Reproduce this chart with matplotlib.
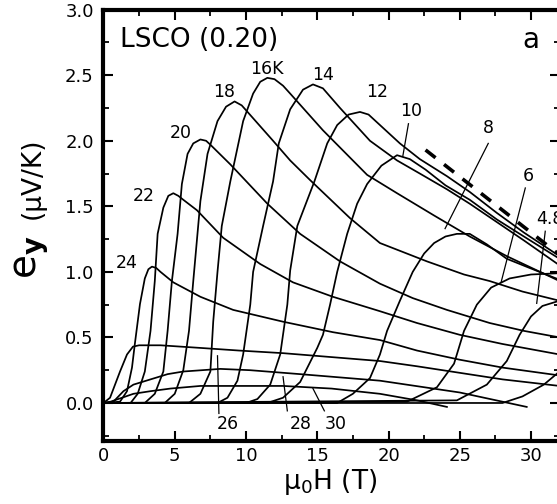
import matplotlib
matplotlib.use("Agg")
import matplotlib.pyplot as plt
from matplotlib.ticker import MultipleLocator, FormatStrFormatter

# e_y (uV/K) against field (T) for each temperature
h_30 = [0, 0.5, 2.1, 3.3, 4.7, 6.8, 8.2, 12.6, 16.0, 19.4, 22.0, 24.1]
e_30 = [0, 0.01, 0.07, 0.09, 0.11, 0.13, 0.13, 0.13, 0.11, 0.07, 0.02, -0.03]

h_28 = [0, 0.7, 1.4, 2.1, 3.3, 4.5, 5.6, 8.2, 10.3, 13.8, 19.4, 25.0, 29.7]
e_28 = [0, 0.01, 0.09, 0.14, 0.18, 0.22, 0.24, 0.26, 0.25, 0.22, 0.17, 0.08, -0.03]

h_26 = [0, 0.46, 1.16, 1.65, 2.07, 2.5, 4.0, 6.8, 9.5, 12.6, 16.0, 19.4, 22.0, 25.0, 28.0, 32.0]
e_26 = [0, 0.04, 0.24, 0.37, 0.43, 0.44, 0.44, 0.42, 0.40, 0.38, 0.35, 0.32, 0.28, 0.23, 0.18, 0.13]

h_24 = [0, 1.16, 1.65, 2.0, 2.2, 2.56, 2.9, 3.15, 3.4, 3.7, 4.0, 4.9, 6.8, 9.1, 12.6, 16.1, 19.4, 22.0, 25.0, 28.0, 32.0]
e_24 = [0, 0.01, 0.09, 0.27, 0.45, 0.755, 0.95, 1.02, 1.04, 1.03, 1.0, 0.92, 0.81, 0.71, 0.62, 0.54, 0.48, 0.40, 0.33, 0.27, 0.21]

h_22 = [0, 1.9, 2.4, 2.9, 3.3, 3.6, 3.8, 4.2, 4.55, 4.9, 5.25, 5.6, 6.56, 8.4, 11.0, 13.3, 16.1, 19.4, 22.0, 25.0, 28.0, 32.0]
e_22 = [0, 0, 0.07, 0.24, 0.55, 0.93, 1.29, 1.49, 1.58, 1.60, 1.58, 1.55, 1.47, 1.26, 1.06, 0.92, 0.81, 0.70, 0.61, 0.52, 0.45, 0.37]

h_20 = [0, 2.9, 3.6, 4.2, 4.5, 4.8, 5.2, 5.5, 5.9, 6.3, 6.8, 7.2, 7.5, 8.9, 11.5, 13.8, 16.6, 19.4, 21.7, 24.1, 27.1, 29.5, 32.0]
e_20 = [0, 0, 0.07, 0.24, 0.55, 0.93, 1.29, 1.67, 1.90, 1.98, 2.01, 2.00, 1.97, 1.82, 1.52, 1.29, 1.08, 0.91, 0.80, 0.71, 0.61, 0.55, 0.50]

h_18 = [0, 4.3, 5.0, 5.6, 6.0, 6.3, 6.8, 7.3, 8.0, 8.6, 9.2, 9.7, 11.9, 13.1, 14.5, 17.3, 19.4, 22.7, 25.3, 27.1, 29.4, 32.0]
e_18 = [0, 0, 0.07, 0.25, 0.55, 0.93, 1.54, 1.90, 2.15, 2.26, 2.30, 2.27, 2.0, 1.85, 1.70, 1.41, 1.22, 1.08, 0.98, 0.93, 0.85, 0.78]

h_16 = [0, 6.0, 6.8, 7.5, 7.7, 8.0, 8.3, 8.9, 9.8, 10.5, 11.0, 11.5, 12.0, 12.6, 13.1, 15.4, 18.5, 20.6, 23.2, 25.7, 28.3, 32.0]
e_16 = [0, 0, 0.07, 0.24, 0.62, 1.0, 1.35, 1.69, 2.15, 2.36, 2.45, 2.48, 2.47, 2.42, 2.36, 2.08, 1.74, 1.60, 1.43, 1.27, 1.12, 0.93]

h_14 = [0, 8.0, 8.7, 9.4, 9.8, 10.3, 10.5, 11.2, 11.9, 12.3, 13.1, 14.0, 14.7, 15.4, 16.6, 18.7, 20.6, 22.2, 24.1, 25.7, 27.6, 29.5, 32.0]
e_14 = [0, 0, 0.04, 0.17, 0.37, 0.75, 1.0, 1.35, 1.69, 1.98, 2.24, 2.39, 2.43, 2.40, 2.25, 2.0, 1.85, 1.75, 1.63, 1.52, 1.38, 1.24, 1.05]

h_12 = [0, 10.0, 10.8, 11.7, 12.4, 12.9, 13.1, 13.6, 14.8, 15.7, 16.4, 17.2, 18.0, 18.6, 19.2, 20.8, 22.2, 24.1, 25.7, 27.6, 29.5, 32.0]
e_12 = [0, 0, 0.03, 0.14, 0.37, 0.75, 1.01, 1.35, 1.69, 1.98, 2.12, 2.20, 2.22, 2.20, 2.14, 1.98, 1.86, 1.73, 1.61, 1.45, 1.30, 1.12]

h_10 = [0, 11.5, 12.6, 13.8, 15.0, 15.4, 15.9, 16.4, 17.1, 17.8, 18.5, 19.5, 20.6, 21.5, 22.6, 24.0, 25.7, 27.6, 29.5, 32.0]
e_10 = [0, 0, 0.04, 0.16, 0.42, 0.52, 0.75, 1.0, 1.29, 1.52, 1.67, 1.81, 1.89, 1.86, 1.78, 1.66, 1.55, 1.40, 1.27, 1.10]

h_8 = [0, 16.4, 17.5, 18.7, 19.4, 19.9, 20.8, 21.7, 22.5, 23.2, 24.0, 24.8, 25.7, 26.9, 28.3, 29.9, 32.0]
e_8 = [0, 0, 0.07, 0.19, 0.37, 0.55, 0.78, 1.0, 1.14, 1.22, 1.27, 1.29, 1.29, 1.21, 1.10, 1.03, 0.94]

h_6 = [0, 21.3, 23.4, 24.6, 25.3, 26.2, 27.2, 28.5, 30.0, 32.0]
e_6 = [0, 0.01, 0.12, 0.30, 0.55, 0.75, 0.88, 0.95, 0.98, 0.99]

h_48 = [0, 24.8, 26.9, 28.3, 29.2, 30.0, 30.8, 32.0]
e_48 = [0, 0.02, 0.14, 0.32, 0.52, 0.66, 0.74, 0.78]

h_3 = [0, 28.0, 29.4, 30.9, 32.0]
e_3 = [0, 0.0, 0.05, 0.14, 0.24]

curves = [(h_30, e_30), (h_28, e_28), (h_26, e_26), (h_24, e_24), (h_22, e_22),
          (h_20, e_20), (h_18, e_18), (h_16, e_16), (h_14, e_14), (h_12, e_12),
          (h_10, e_10), (h_8, e_8), (h_6, e_6), (h_48, e_48), (h_3, e_3)]

# dashed guide line
dash_h = [22.6, 32.0]
dash_e = [1.93, 1.13]

# temperature labels
lab_text = ["16K", "14", "18", "12", "10", "20", "8", "6", "22", "4.8", "24", "26", "28", "30", "32"]
lab_h = [11.5, 15.4, 8.5, 19.2, 21.6, 5.4, 27.0, 29.8, 2.8, 31.3, 1.65, 8.7, 13.85, 16.3, 32.6]
lab_e = [2.55, 2.50, 2.37, 2.37, 2.23, 2.06, 2.10, 1.73, 1.58, 1.40, 1.07, -0.16, -0.16, -0.16, -0.16]

# leader lines: (h0, h1), (e0, e1)
leaders = [((21.4, 21.0), (2.13, 1.88)),
           ((27.0, 23.97), (1.98, 1.33)),
           ((29.6, 27.9), (1.64, 0.92)),
           ((31.0, 30.4), (1.31, 0.76)),
           ((8.0, 8.1), (0.36, -0.08)),
           ((12.6, 12.9), (0.20, -0.06)),
           ((14.7, 15.5), (0.11, -0.06))]

fig = plt.figure(figsize=(5.57, 5.04), dpi=100)
ax = fig.add_axes([0.1858, 0.125, 0.8187, 0.8558])

for h, e in curves:
    ax.plot(h, e, color="black", lw=1.25, solid_joinstyle="round")
ax.plot(dash_h, dash_e, color="black", lw=2.6, dashes=(3.5, 3.0))
for hh, ee in leaders:
    ax.plot(hh, ee, color="black", lw=0.9)

for t, x, y in zip(lab_text, lab_h, lab_e):
    ax.text(x, y, t, fontsize=12.5, ha="center", va="center")

ax.text(1.16, 2.77, "LSCO (0.20)", fontsize=19, ha="left", va="center")
ax.text(30.0, 2.77, "a", fontsize=20, ha="center", va="center")

ax.set_xlim(0, 32)
ax.set_ylim(-0.29, 3.0)
ax.xaxis.set_major_locator(MultipleLocator(5))
ax.xaxis.set_minor_locator(MultipleLocator(2.5))
ax.yaxis.set_major_locator(MultipleLocator(0.5))
ax.yaxis.set_minor_locator(MultipleLocator(0.25))
ax.yaxis.set_major_formatter(FormatStrFormatter("%.1f"))

for sp in ax.spines.values():
    sp.set_linewidth(3)
ax.tick_params(which="both", direction="in", top=True, right=True)
ax.tick_params(which="major", length=7, width=1.5, labelsize=13)
ax.tick_params(axis="y", which="major", pad=7)
ax.tick_params(axis="x", which="major", pad=4)
ax.tick_params(which="minor", length=4.5, width=1.3)

fig.text(0.592, 0.030, "μ$_0$H (T)", fontsize=19, ha="center", va="baseline")
fig.text(0.056, 0.490, r"$\mathrm{e}_{\mathbf{y}}$", fontsize=28, rotation=90,
         ha="center", va="center")
fig.text(0.058, 0.647, "(μV/K)", fontsize=19, rotation=90, ha="center", va="center")

fig.savefig("out.png", dpi=100)
